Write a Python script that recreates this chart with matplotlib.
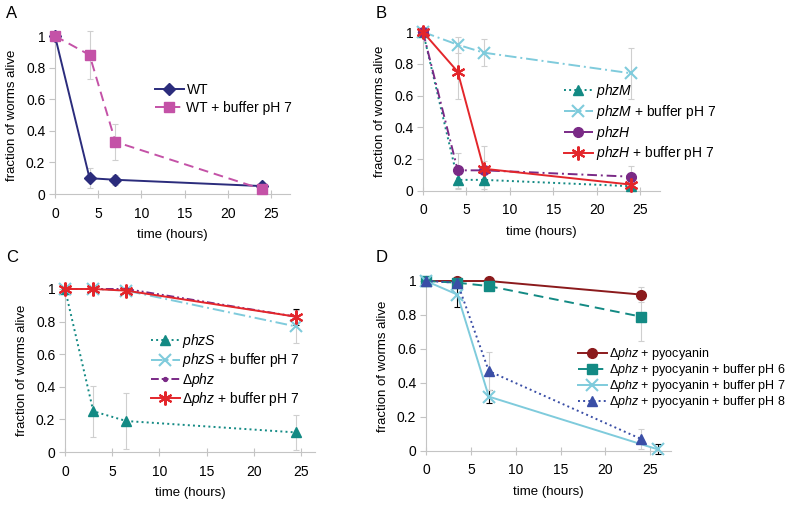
import numpy as np
import matplotlib
matplotlib.use("Agg")
import matplotlib.pyplot as plt
from matplotlib.ticker import FuncFormatter

plt.rcParams['font.family'] = ['Liberation Sans', 'DejaVu Sans']
plt.rcParams['mathtext.fontset'] = 'custom'
plt.rcParams['mathtext.it'] = 'Liberation Sans:italic'
plt.rcParams['mathtext.rm'] = 'Liberation Sans'

# --- dane ---
# A
t_A = [0, 4, 7, 24]
wt = [1.0, 0.10, 0.09, 0.05]
wt_err = [0, 0.065, 0.03, 0.015]
wt_buf = [1.0, 0.88, 0.33, 0.03]
wt_buf_err = [0, 0.15, 0.115, 0.01]

# B
t_B = [0, 4, 7, 24]
phzM = [1.0, 0.07, 0.07, 0.03]
phzM_err = [0, 0.06, 0.06, 0.02]
phzM_buf = [1.0, 0.92, 0.87, 0.74]
phzM_buf_err = [0, 0.05, 0.085, 0.16]
phzH = [1.0, 0.13, 0.13, 0.09]
phzH_err = [0, 0.11, 0.06, 0.07]
phzH_buf = [1.0, 0.75, 0.14, 0.04]
phzH_buf_err = [0, 0.17, 0.14, 0.02]

# C
t_C = [0, 3, 6.5, 24.5]
phzS = [1.0, 0.25, 0.19, 0.12]
phzS_err = [0, 0.155, 0.17, 0.105]
phzS_buf = [1.0, 1.0, 0.99, 0.77]
phzS_buf_err = [0, 0, 0.01, 0.1]
dphz = [1.0, 1.0, 1.0, 0.83]
dphz_buf = [1.0, 1.0, 0.99, 0.83]
dphz_buf_err = [0, 0, 0.01, 0.05]

# D
t_D = [0, 3.5, 7, 24]
t_D7 = [0, 3.5, 7, 25.8]
pyo = [1.0, 1.0, 1.0, 0.92]
pyo_err = [0, 0, 0, 0.045]
pyo6 = [1.0, 0.99, 0.97, 0.79]
pyo6_err = [0, 0.01, 0.02, 0.14]
pyo7 = [1.0, 0.92, 0.32, 0.01]
pyo7_err = [0, 0.07, 0.04, 0.03]
pyo8 = [1.0, 0.99, 0.47, 0.07]
pyo8_err = [0, 0.01, 0.11, 0.06]

GRAY = '#cfcfcf'
AX = '#c4c4c4'
TEAL = '#138a84'
LBLUE = '#7fcbdc'
PURPLE = '#7a2a86'
RED = '#e3262b'
STAR = (6, 2, 0)


def Seria(ax, t, y, err, kolor, marker, ls, label, ms=7, ecol=GRAY, mew=1.0):
    if err is not None:
        ax.errorbar(t, y, yerr=err, fmt='none', ecolor=ecol, elinewidth=0.8,
                    capsize=2.5, capthick=0.8, clip_on=False, zorder=2)
    ax.plot(t, y, color=kolor, marker=marker, linestyle=ls, linewidth=1.4,
            markersize=ms, markeredgewidth=mew, label=label, clip_on=False, zorder=3)


def Osie(ax, xmax):
    ax.set_xlim(0, xmax)
    ax.set_ylim(0, 1)
    ax.set_xticks([0, 5, 10, 15, 20, 25])
    ax.set_yticks([0, 0.2, 0.4, 0.6, 0.8, 1.0])
    ax.yaxis.set_major_formatter(FuncFormatter(lambda v, p: ('%g' % v)))
    for s in ['top', 'right']:
        ax.spines[s].set_visible(False)
    for s in ['left', 'bottom']:
        ax.spines[s].set_color(AX)
        ax.spines[s].set_linewidth(0.8)
    ax.tick_params(axis='x', direction='inout', length=6, color=AX, labelsize=10, pad=6)
    ax.tick_params(axis='y', direction='out', length=4, color=AX, labelsize=10, pad=3)
    ax.set_xlabel("time (hours)", fontsize=9.5, labelpad=6)
    ax.set_ylabel("fraction of worms alive", fontsize=9.5, labelpad=6)


W, H = 789, 505
fig = plt.figure(figsize=(W / 100, H / 100), dpi=100)


def Pozycja(l, r, t, b):
    return [l / W, (H - b) / H, (r - l) / W, (b - t) / H]


# A
ax = fig.add_axes(Pozycja(55, 290, 36, 194))
Seria(ax, t_A, wt, wt_err, '#2b2c7c', 'D', '-', 'WT', ms=6)
Seria(ax, t_A, wt_buf, wt_buf_err, '#c452a7', 's', (0, (5, 3)), 'WT + buffer pH 7', ms=7.5)
Osie(ax, 27.2)
ax.legend(loc='upper left', bbox_to_anchor=(0.40, 0.74), frameon=False, fontsize=10,
          handlelength=2.1, handletextpad=0.2, labelspacing=0.3, borderaxespad=0)
fig.text(6 / W, 1 - 13 / H, "A", fontsize=12, va='center', ha='left')

# B
ax = fig.add_axes(Pozycja(423, 660, 32, 191))
Seria(ax, t_B, phzM, phzM_err, TEAL, '^', ':', r'$\mathit{phzM}$', ms=7)
Seria(ax, t_B, phzM_buf, phzM_buf_err, LBLUE, 'x', (0, (6, 2, 1, 2)), r'$\mathit{phzM}$ + buffer pH 7', ms=8, mew=1.5)
Seria(ax, t_B, phzH, phzH_err, PURPLE, 'o', (0, (5, 2, 1, 2)), r'$\mathit{phzH}$', ms=7)
Seria(ax, t_B, phzH_buf, phzH_buf_err, RED, STAR, '-', r'$\mathit{phzH}$ + buffer pH 7', ms=10, mew=1.5)
Osie(ax, 27.3)
ax.legend(loc='upper left', bbox_to_anchor=(0.57, 0.72), frameon=False, fontsize=10,
          handlelength=2.1, handletextpad=0.2, labelspacing=0.2, borderaxespad=0)
fig.text(376 / W, 1 - 13 / H, "B", fontsize=12, va='center', ha='left')

# C
ax = fig.add_axes(Pozycja(65, 315, 289, 452))
Seria(ax, t_C, phzS, phzS_err, TEAL, '^', ':', r'$\mathit{phzS}$', ms=7)
Seria(ax, t_C, phzS_buf, phzS_buf_err, LBLUE, 'x', (0, (6, 2, 1, 2)), r'$\mathit{phzS}$ + buffer pH 7', ms=8, mew=1.5)
Seria(ax, t_C, dphz, None, PURPLE, 'o', (0, (4, 1.5, 1, 1.5, 1, 1.5)), r'$\Delta\mathit{phz}$', ms=3, mew=0.8)
Seria(ax, t_C, dphz_buf, dphz_buf_err, RED, STAR, '-', r'$\Delta\mathit{phz}$ + buffer pH 7', ms=10, ecol='black', mew=1.5)
Osie(ax, 26.5)
ax.legend(loc='upper left', bbox_to_anchor=(0.32, 0.77), frameon=False, fontsize=10,
          handlelength=2.1, handletextpad=0.2, labelspacing=0.1, borderaxespad=0)
fig.text(6 / W, 1 - 257 / H, "C", fontsize=12, va='center', ha='left')

# D
ax = fig.add_axes(Pozycja(426, 671, 281, 451))
Seria(ax, t_D, pyo, pyo_err, '#8b1a1c', 'o', '-', r'$\Delta\mathit{phz}$ + pyocyanin', ms=7)
Seria(ax, t_D, pyo6, pyo6_err, TEAL, 's', (0, (5, 3)), r'$\Delta\mathit{phz}$ + pyocyanin + buffer pH 6', ms=7)
Seria(ax, t_D7, pyo7, pyo7_err, LBLUE, 'x', '-', r'$\Delta\mathit{phz}$ + pyocyanin + buffer pH 7', ms=8, ecol='black', mew=1.5)
Seria(ax, t_D, pyo8, pyo8_err, '#3a4ea6', '^', ':', r'$\Delta\mathit{phz}$ + pyocyanin + buffer pH 8', ms=7)
Osie(ax, 27.3)
ax.legend(loc='upper left', bbox_to_anchor=(0.60, 0.645), frameon=False, fontsize=9,
          handlelength=2.3, handletextpad=0.2, labelspacing=0.0, borderaxespad=0)
fig.text(376 / W, 1 - 257 / H, "D", fontsize=12, va='center', ha='left')

plt.savefig("out.png", dpi=100)
